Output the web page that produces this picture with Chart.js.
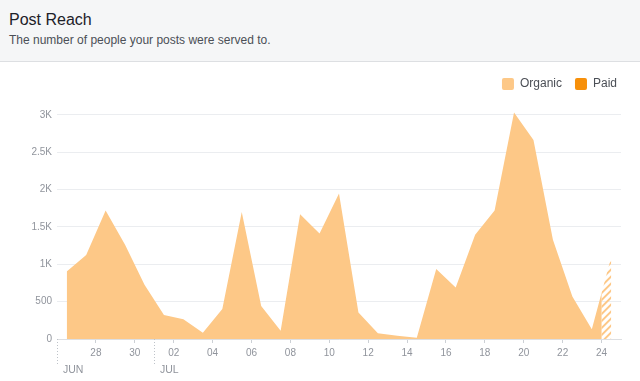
<!DOCTYPE html>
<html><head><meta charset="utf-8">
<script src="https://cdn.jsdelivr.net/npm/chart.js@4.4.1/dist/chart.umd.min.js"></script>
<style>
html,body{margin:0;padding:0;background:#fff;width:640px;height:381px;overflow:hidden;font-family:"Liberation Sans",Arial,sans-serif;}
#hdr{position:absolute;left:0;top:0;width:640px;height:61px;background:#f5f6f7;border-bottom:1px solid #dddfe2;}
#t{position:absolute;left:9px;top:10px;font-size:16px;color:#1d2129;line-height:19px;white-space:nowrap;}
#s{position:absolute;left:9px;top:33px;font-size:12px;color:#4b4f56;line-height:14px;white-space:nowrap;}
#wrap{position:absolute;left:0;top:62px;width:640px;height:319px;}
</style></head><body>
<div id="hdr"><div id="t">Post Reach</div><div id="s">The number of people your posts were served to.</div></div>
<div id="wrap"><canvas id="c" width="640" height="319"></canvas></div>
<script>
// Categories: days Jun 26 .. Jul 24 (last day still in progress)
const days = ["26","27","28","29","30","01","02","03","04","05","06","07","08","09","10","11","12","13","14","15","16","17","18","19","20","21","22","23","24"];
const months = ["JUN","JUL"];
const monthStarts = ["26","01"];
const organic = [904,1125,1720,1263,725,322,264,85,403,1702,443,112,1670,1411,1948,354,76,42,18,936,690,1397,1720,3032,2665,1330,569,130,1100];
const paid = [0,0,0,0,0,0,0,0,0,0,0,0,0,0,0,0,0,0,0,0,0,0,0,0,0,0,0,0,0];
const tickLabels = ["28","30","02","04","06","08","10","12","14","16","18","20","22","24"];
const yTicks = [0,500,1000,1500,2000,2500,3000];
const yTickLabels = ["0","500","1K","1.5K","2K","2.5K","3K"];
const seriesNames = ["Organic","Paid"];

const ORG = "#fdc887";
const PAID = "#f7900a";
const partialIndex = days.length - 1;

function organicFill(c) {
  const chart = c.chart;
  const area = chart.chartArea;
  const xs = chart.scales && chart.scales.x;
  if (!area || !xs || !chart.width) return ORG;
  const cut = xs.getPixelForValue(partialIndex);
  if (!isFinite(cut)) return ORG;
  const cv = document.createElement('canvas');
  cv.width = chart.canvas.width; cv.height = chart.canvas.height;
  const g = cv.getContext('2d');
  g.fillStyle = ORG; g.fillRect(0, 0, cut, cv.height);
  g.save(); g.beginPath(); g.rect(cut, 0, cv.width - cut, cv.height); g.clip();
  g.strokeStyle = ORG; g.lineWidth = 2;
  for (let k = cut - cv.height; k < cv.width; k += 7) {
    g.beginPath(); g.moveTo(k, cv.height); g.lineTo(k + cv.height, 0); g.stroke();
  }
  g.restore();
  return g.createPattern(cv, 'no-repeat');
}

const monthPlugin = {
  id: 'months',
  afterDraw(chart) {
    const {ctx, chartArea, scales: {x}} = chart;
    ctx.save();
    months.forEach((m, i) => {
      const px = Math.round(x.getPixelForValue(days.indexOf(monthStarts[i]))) + 0.5;
      ctx.strokeStyle = '#bec3c9'; ctx.lineWidth = 1; ctx.setLineDash([1, 2]);
      ctx.beginPath(); ctx.moveTo(px, chartArea.bottom); ctx.lineTo(px, chartArea.bottom + 27); ctx.stroke();
      ctx.fillStyle = '#90949c'; ctx.font = '10.5px "Liberation Sans"';
      ctx.textBaseline = 'middle'; ctx.textAlign = 'left';
      ctx.fillText(m, px + 5.5, chartArea.bottom + 31);
    });
    ctx.restore();
  }
};

const legendColors = [ORG, PAID];

new Chart(document.getElementById('c'), {
  type: 'line',
  data: {
    datasets: [
      { label: seriesNames[0], data: organic.map((v, i) => ({x: i + 0.5, y: v})),
        backgroundColor: organicFill, borderWidth: 0, fill: 'origin', pointRadius: 0, tension: 0 },
      { label: seriesNames[1], data: paid.map((v, i) => ({x: i + 0.5, y: v})),
        backgroundColor: PAID, borderWidth: 0, fill: 'origin', pointRadius: 0, tension: 0 }
    ]
  },
  options: {
    responsive: false, animation: false,
    layout: { padding: { top: 3, right: 10, left: 0, bottom: 0 } },
    plugins: {
      tooltip: { enabled: false },
      legend: {
        position: 'top', align: 'end',
        labels: {
          boxWidth: 12, boxHeight: 12, padding: 13, color: '#4b4f56', useBorderRadius: true,
          font: { size: 12, family: '"Liberation Sans", Arial, sans-serif' },
          generateLabels: (chart) => chart.data.datasets.map((d, i) => ({
            text: d.label, fillStyle: legendColors[i], strokeStyle: legendColors[i], lineWidth: 0,
            borderRadius: 2, hidden: !chart.isDatasetVisible(i), datasetIndex: i, fontColor: '#4b4f56'
          }))
        }
      }
    },
    scales: {
      x: {
        type: 'linear', min: 0, max: days.length,
        afterBuildTicks: s => { s.ticks = tickLabels.map(l => ({value: days.indexOf(l)})); },
        ticks: { callback: (v, i) => tickLabels[i], color: '#90949c', font: { size: 10, family: '"Liberation Sans", Arial, sans-serif' }, padding: 4, maxRotation: 0, autoSkip: false },
        grid: { display: true, drawOnChartArea: false, drawTicks: true, tickLength: 4, color: '#ccd0d5' },
        border: { display: true, color: '#dddfe2' },
        afterFit: s => { s.height = 42; }
      },
      y: {
        min: 0, max: 3200,
        afterBuildTicks: s => { s.ticks = yTicks.map(v => ({value: v})); },
        ticks: { callback: (v, i) => yTickLabels[i], color: '#90949c', font: { size: 10, family: '"Liberation Sans", Arial, sans-serif' }, padding: 5 },
        grid: { color: '#ebedf0', drawTicks: false },
        border: { display: false },
        afterFit: s => { s.width = 57; }
      },
      yR: {
        position: 'right', min: 0, max: 1,
        grid: { display: false, drawTicks: false }, border: { display: false }, ticks: { display: false },
        afterFit: s => { s.width = 9; }
      }
    }
  },
  plugins: [monthPlugin]
});
</script>
</body></html>
